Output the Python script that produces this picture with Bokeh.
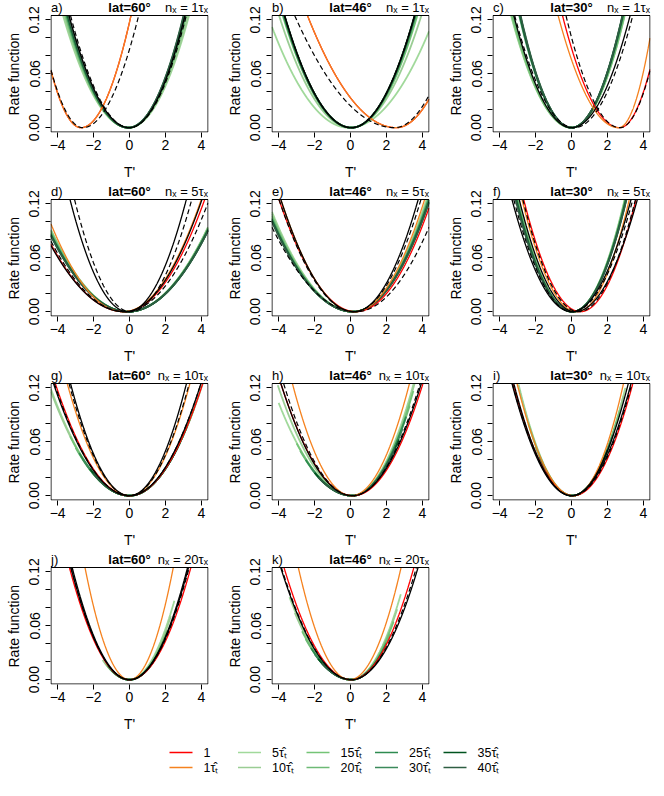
import numpy as np
from bokeh.plotting import figure
from bokeh.models import Range1d, FixedTicker, PrintfTickFormatter
from bokeh.layouts import column, row
from bokeh.embed import file_html
from bokeh.resources import INLINE
from bokeh.core.properties import value

# ---------------- data ----------------
panel_tags = ["a)", "b)", "c)", "d)", "e)", "f)", "g)", "h)", "i)", "j)", "k)"]
lats = [60, 46, 30, 60, 46, 30, 60, 46, 30, 60, 46]
n_x = [1, 1, 1, 5, 5, 5, 10, 10, 10, 20, 20]

x_ticks = [-4, -2, 0, 2, 4]
x_tick_labels = ["\u22124", "\u22122", "0", "2", "4"]
y_major = [0.0, 0.06, 0.12]
y_minor = [0.02, 0.04, 0.08, 0.10]

green_levels = [5, 10, 15, 20, 25, 30, 35, 40]
legend_labels = ["1", "1\u03c4\u0302\u209c"] + [f"{g}\u03c4\u0302\u209c" for g in green_levels]

# each curve: (centre, left half-width, right half-width) where rate function reaches 0.12
red_curve = [(-2.7, 2.3, 2.73), (2.55, 4.85, 3.54), (2.68, 3.12, 2.3), (-0.3, 5.15, 4.4),
             (0.3, 4.2, 4.15), (0.5, 3.1, 3.03), (0.0, 4.05, 4.0), (0.15, 3.95, 3.81),
             (0.1, 3.3, 3.25), (0.0, 3.28, 3.35), (0.05, 3.68, 3.41)]
orange_curve = [(-2.7, 2.3, 2.73), (2.55, 4.85, 3.54), (2.62, 3.3, 1.92), (-0.35, 4.46, 4.26),
                (0.2, 4.0, 3.85), (0.3, 3.0, 2.86), (0.0, 3.4, 3.3), (0.05, 3.22, 3.17),
                (0.1, 3.07, 2.74), (0.0, 2.43, 2.39), (-0.05, 2.8, 2.81)]
black_solid = [[(-0.02, 3.28, 3.05)],
               [(0.05, 3.65, 3.45)],
               [(0.0, 3.15, 3.2)],
               [(-0.1, 3.15, 3.2), (-0.3, 5.2, 4.25)],
               [(0.2, 4.0, 3.5)],
               [(0.0, 3.25, 3.25), (0.2, 3.05, 3.4)],
               [(0.0, 3.22, 3.11), (0.0, 4.15, 3.9)],
               [(0.1, 3.9, 3.77)],
               [(0.0, 3.25, 3.25), (0.0, 3.15, 3.1)],
               [(0.0, 3.13, 3.17), (0.0, 3.2, 3.22)],
               [(0.05, 3.86, 3.64)]]
black_dashed = [[(-2.6, 2.42, 3.05), (0.0, 3.22, 3.1)],
                [(2.45, 5.45, 3.5), (0.05, 3.65, 3.45)],
                [(2.7, 2.95, 2.3), (0.15, 3.25, 3.2)],
                [(0.05, 3.05, 3.35), (-0.25, 5.1, 4.6)],
                [(0.2, 4.1, 3.65), (0.3, 5.28, 4.6)],
                [(0.05, 3.2, 3.3), (0.4, 3.05, 3.1)],
                [(0.0, 3.3, 3.26), (0.0, 4.1, 3.9)],
                [(0.1, 3.75, 3.7)],
                [(0.05, 3.28, 3.25)],
                [(0.0, 3.2, 3.26)],
                [(0.05, 3.82, 3.55)]]

# green curves (levels 5..40): centre, half-widths and the T interval where each is drawn
green_c = [[-0.05] * 8, [-0.1, 0.0, 0.05, 0.05, 0.05, 0.05, 0.05, 0.05], [0.0] * 8, [-0.1] * 8,
           [0.15] * 8, [0.05] * 8, [0.0] * 8, [0.1] * 8, [0.05] * 8, [0.0] * 8, [0.05] * 8]
green_wl = [[3.58, 3.52, 3.45, 3.42, 3.38, 3.35, 3.32, 3.3],
            [4.42, 3.9, 3.75, 3.72, 3.7, 3.68, 3.66, 3.65],
            [3.3, 3.28, 3.25, 3.2, 2.85, 2.82, 2.8, 2.78],
            [4.9, 4.92, 4.95, 5.0, 5.03, 5.06, 5.08, 5.1],
            [4.7, 4.75, 4.8, 4.85, 4.88, 4.9, 4.93, 4.95],
            [2.95, 2.97, 3.0, 3.02, 3.04, 3.06, 3.08, 3.1],
            [4.4, 4.45, 4.45, 4.5, 4.45, 4.45, 4.4, 4.4],
            [4.42, 4.1, 4.45, 4.5, 4.5, 4.55, 4.55, 4.6],
            [2.95, 2.98, 3.0, 3.05, 3.08, 3.1, 3.1, 3.1],
            [3.5, 3.45, 3.4, 3.4, 3.35, 3.35, 3.3, 3.3],
            [3.94, 4.0, 4.1, 4.15, 4.15, 4.2, 4.2, 4.2]]
green_wr = [[3.3, 3.25, 3.15, 3.12, 3.08, 3.05, 3.02, 3.0],
            [4.73, 3.87, 3.6, 3.55, 3.5, 3.48, 3.46, 3.45],
            [2.9, 2.9, 2.88, 2.86, 2.82, 2.8, 2.79, 2.78],
            [5.05, 5.06, 5.08, 5.1, 5.12, 5.14, 5.15, 5.16],
            [4.0, 4.05, 4.08, 4.1, 4.12, 4.15, 4.18, 4.2],
            [2.85, 2.87, 2.88, 2.9, 2.91, 2.92, 2.94, 2.95],
            [4.0, 4.0, 4.0, 4.0, 4.0, 4.0, 4.0, 4.0],
            [3.35, 3.4, 3.45, 3.5, 3.5, 3.55, 3.6, 3.6],
            [2.95, 2.96, 2.97, 2.98, 3.0, 3.0, 3.0, 3.0],
            [2.92, 3.0, 3.1, 3.15, 3.2, 3.22, 3.25, 3.25],
            [3.09, 3.15, 3.2, 3.3, 3.35, 3.4, 3.45, 3.45]]
green_from = [[-5] * 8, [-5] * 8, [-5] * 8, [-5] * 8, [-5] * 8, [-5] * 8,
              [-4.4, -4.4, -3.3, -3.0, -2.8, -2.6, -2.2, -2.0],
              [-4.0, -4.05, -3.0, -2.8, -2.5, -2.2, -2.0, -1.8],
              [-2.95, -2.9, -2.4, -2.0, -1.8, -1.6, -1.4, -1.2],
              [-1.5, -1.4, -1.3, -1.2, -1.2, -1.1, -1.0, -1.0],
              [-3.4, -3.1, -2.7, -2.5, -2.2, -2.0, -1.8, -1.6]]
green_to = [[5] * 8, [5] * 8, [5] * 8, [5] * 8, [5] * 8, [5] * 8,
            [3.9, 4.4, 3.6, 3.4, 3.2, 3.0, 2.8, 2.6],
            [3.6, 3.8, 3.5, 3.3, 3.1, 2.9, 2.7, 2.5],
            [3.0, 2.9, 2.7, 2.5, 2.3, 2.1, 2.0, 1.8],
            [2.5, 2.3, 2.1, 2.0, 1.9, 1.8, 1.7, 1.7],
            [2.8, 2.6, 2.4, 2.2, 2.0, 1.9, 1.8, 1.7]]

# ---------------- styles / geometry ----------------
RED = "#FF0000"
ORANGE = "#F5821F"
GREENS = ["#A1D99B", "#9ACD94", "#74C476", "#6DBA75", "#2E8B50", "#3B8A5B", "#00531F", "#2E5E43"]
FONT = "Liberation Sans"
X0, X1 = -4.37, 4.37          # box limits (data)
Y0, Y1 = -0.0048, 0.1248
BOX_W, BOX_H = 157, 116.5     # box size in px
TITLE_H = 15                  # px above box (title line), inside the frame
DX = (X1 - X0) / BOX_W
DY = (Y1 - Y0) / BOX_H
XR = (X0 - 0.5 * DX, X1 + 0.5 * DX)
YR = (Y0 - 0.5 * DY, Y1 + TITLE_H * DY)
T = np.linspace(X0, X1, 2500)

FIG_W = 221
LEFT_B, RIGHT_B = 50, 13
FIG_H = 184
BOTTOM_B = 52


def rate(c, wl, wr, lo=-10, hi=10):
    t = T[(T >= lo) & (T <= hi)]
    w = np.where(t < c, wl, wr)
    y = 0.12 * ((t - c) / w) ** 2
    y = np.where(y > Y1, np.nan, y)
    return t, y


def make_panel(i):
    p = figure(width=FIG_W, height=FIG_H, x_range=Range1d(*XR), y_range=Range1d(*YR),
               output_backend="svg", toolbar_location=None, title=None,
               min_border_left=LEFT_B, min_border_right=RIGHT_B, min_border_top=0,
               min_border_bottom=BOTTOM_B)
    p.xgrid.visible = False
    p.ygrid.visible = False
    p.outline_line_color = None
    p.background_fill_color = "white"

    xa = p.xaxis[0]
    xa.ticker = FixedTicker(ticks=x_ticks)
    xa.major_label_overrides = dict(zip(x_ticks, x_tick_labels))
    ya = p.yaxis[0]
    ya.ticker = FixedTicker(ticks=y_major, minor_ticks=y_minor)
    ya.formatter = PrintfTickFormatter(format="%.2f")
    ya.major_label_orientation = "vertical"
    for ax in (xa, ya):
        ax.axis_line_color = None
        ax.major_tick_in = 0
        ax.major_tick_out = 5
        ax.minor_tick_in = 0
        ax.minor_tick_out = 5
        ax.major_tick_line_color = "black"
        ax.minor_tick_line_color = "black"
        ax.major_label_text_font = FONT
        ax.major_label_text_font_size = "14px"
        ax.major_label_text_color = "black"
        ax.axis_label_text_font = FONT
        ax.axis_label_text_font_size = "14px"
        ax.axis_label_text_font_style = "normal"
        ax.axis_label_text_color = "black"
    xa.minor_tick_line_color = None
    xa.major_label_standoff = 2
    ya.major_label_standoff = 6
    xa.axis_label = "T'"
    xa.axis_label_standoff = 11
    # trailing no-break spaces re-centre the label on the box (the frame also holds the title line)
    ya.axis_label = "Rate function" + "\u00a0" * 4
    ya.axis_label_standoff = 5

    for g in range(8):
        t, y = rate(green_c[i][g], green_wl[i][g], green_wr[i][g], green_from[i][g], green_to[i][g])
        p.line(t, y, line_color=GREENS[g], line_width=1.8)
    t, y = rate(*red_curve[i])
    p.line(t, y, line_color=RED, line_width=1.3)
    t, y = rate(*orange_curve[i])
    p.line(t, y, line_color=ORANGE, line_width=1.3)
    for cv in black_solid[i]:
        t, y = rate(*cv)
        p.line(t, y, line_color="black", line_width=1.3)
    for cv in black_dashed[i]:
        t, y = rate(*cv)
        p.line(t, y, line_color="black", line_width=1.2, line_dash="5 3")

    # plot box
    p.quad(left=[X0], right=[X1], bottom=[Y0], top=[Y1], fill_color=None,
           line_color="black", line_width=1)

    # title line (text centred 7.8 px above the box)
    ytit = Y1 + 7.8 * DY
    p.text(x=[X0], y=[ytit], text=[panel_tags[i]], text_font=value(FONT), text_font_size="13px",
           text_align="left", text_baseline="middle", text_color="black")
    p.text(x=[(X0 + X1) / 2], y=[ytit], text=[f"lat={lats[i]}\u00b0"], text_font=value(FONT),
           text_font_size="13px", text_font_style="bold", text_align="center",
           text_baseline="middle", text_color="black")
    p.text(x=[X1], y=[ytit], text=[f"n\u2093 = {n_x[i]}\u03c4\u2093"], text_font=value(FONT),
           text_font_size="13px", text_align="right", text_baseline="middle", text_color="black")
    return p


panels = [make_panel(i) for i in range(11)]

# legend
LEG_W, LEG_H, LEG_TOP = 663, 56, 736
lg = figure(width=LEG_W, height=LEG_H, x_range=Range1d(0, LEG_W), y_range=Range1d(LEG_TOP + LEG_H, LEG_TOP),
            output_backend="svg", toolbar_location=None, title=None, min_border=0)
lg.axis.visible = False
lg.xgrid.visible = False
lg.ygrid.visible = False
lg.outline_line_color = None
leg_colors = [RED, ORANGE] + GREENS
col_x = [169, 237.5, 306, 374.5, 443]
row_y = [752, 767]
for k, (lab, colr) in enumerate(zip(legend_labels, leg_colors)):
    cx = col_x[k // 2]
    cy = row_y[k % 2]
    lg.segment(x0=[cx], y0=[cy], x1=[cx + 23], y1=[cy], line_color=colr, line_width=1.5)
    lg.text(x=[cx + 34], y=[cy], text=[lab], text_font=value(FONT), text_font_size="12.5px",
            text_baseline="middle", text_align="left", text_color="black")

layout = column(row(*panels[0:3]), row(*panels[3:6]), row(*panels[6:9]), row(*panels[9:11]), lg)
open("out.html", "w").write(file_html(layout, INLINE))
